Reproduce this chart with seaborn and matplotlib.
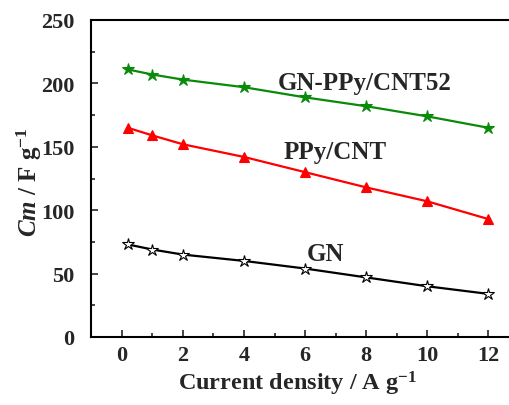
import matplotlib
matplotlib.use("Agg")
import matplotlib.pyplot as plt
import seaborn as sns
import pandas as pd
from matplotlib.ticker import MultipleLocator

current = [0.2, 1, 2, 4, 6, 8, 10, 12]
gn_ppy_cnt52 = [211, 207, 203, 197, 189, 182, 174, 165]
ppy_cnt = [165, 159, 152, 142, 130, 118, 107, 93]
gn = [73, 69, 65, 60, 54, 47, 40, 34]
series_names = ["GN-PPy/CNT52", "PPy/CNT", "GN"]

sns.set_theme(style="ticks")
plt.rcParams["font.family"] = ["Liberation Serif", "DejaVu Serif"]
plt.rcParams["font.weight"] = "bold"
plt.rcParams["mathtext.fontset"] = "custom"
plt.rcParams["mathtext.rm"] = "Liberation Serif:bold"
plt.rcParams["mathtext.it"] = "Liberation Serif:italic:bold"
plt.rcParams["mathtext.bf"] = "Liberation Serif:bold"

fig = plt.figure(figsize=(5.10, 4.06), dpi=100)
ax = fig.add_axes([91.2 / 510, 68 / 406, 427.7 / 510, 317 / 406])

df = pd.DataFrame({
    "x": current * 3,
    "y": gn_ppy_cnt52 + ppy_cnt + gn,
    "s": [series_names[0]] * 8 + [series_names[1]] * 8 + [series_names[2]] * 8,
})

styles = {
    "GN-PPy/CNT52": dict(color="#0a8a0a", marker="*", ms=9, mfc="#0a8a0a", mec="#0a8a0a"),
    "PPy/CNT": dict(color="#ff0000", marker="^", ms=7.5, mfc="#ff0000", mec="#ff0000"),
    "GN": dict(color="black", marker="*", ms=9, mfc="white", mec="black"),
}
for name in series_names:
    st = styles[name]
    sub = df[df["s"] == name]
    sns.lineplot(data=sub, x="x", y="y", ax=ax, color=st["color"], lw=1.6,
                 marker=st["marker"], markersize=st["ms"], markerfacecolor=st["mfc"],
                 markeredgecolor=st["mec"], markeredgewidth=0.8, legend=False)

ax.set_xlim(-1, 13)
ax.set_ylim(0, 250)
ax.xaxis.set_major_locator(MultipleLocator(2))
ax.xaxis.set_minor_locator(MultipleLocator(1))
ax.yaxis.set_major_locator(MultipleLocator(50))
ax.yaxis.set_minor_locator(MultipleLocator(25))
ax.tick_params(which="both", direction="in", top=False, right=False, width=1.2, labelsize=16)
ax.tick_params(axis="y", pad=12)
ax.tick_params(axis="x", pad=6)
ax.tick_params(which="major", length=5)
ax.tick_params(which="minor", length=3)
for lab in ax.get_xticklabels() + ax.get_yticklabels():
    lab.set_fontweight("bold")
for sp in ax.spines.values():
    sp.set_linewidth(1.5)
    sp.set_color("black")

ax.set_xlabel(r"Current density / A g$^{\mathbf{-1}}$", fontsize=17.5, fontweight="bold")
ax.set_ylabel(r"$Cm$ / F g$^{\mathbf{-1}}$", fontsize=18, fontweight="bold")
ax.xaxis.set_label_coords((298 - 91.2) / 427.7, -(384 - 338) / 317)
ax.xaxis.label.set_va("center")
ax.yaxis.set_label_coords((29 - 91.2) / 427.7, (338 - 182) / 317)
ax.yaxis.label.set_va("center")

ax.text(7.96, 201, "GN-PPy/CNT52", fontsize=18, fontweight="bold", ha="center", va="center")
ax.text(7.0, 146, "PPy/CNT", fontsize=18, fontweight="bold", ha="center", va="center")
ax.text(6.67, 66, "GN", fontsize=18, fontweight="bold", ha="center", va="center")

fig.savefig("out.png", dpi=100)
